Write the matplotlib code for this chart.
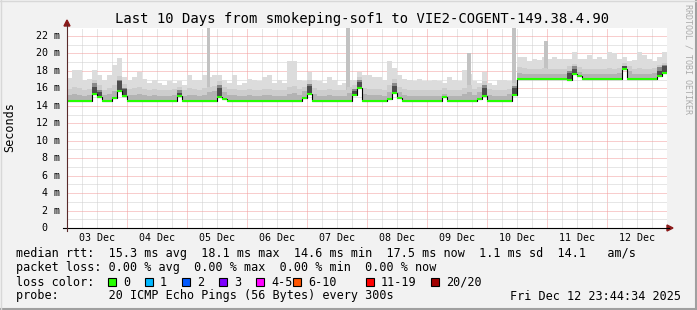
import numpy as np
import matplotlib
matplotlib.use('Agg')
import matplotlib.pyplot as plt
from matplotlib.patches import Rectangle, Polygon
from matplotlib.transforms import blended_transform_factory

W, H = 697, 310

title = 'Last 10 Days from smokeping-sof1 to VIE2-COGENT-149.38.4.90'
day_labels = ['03 Dec', '04 Dec', '05 Dec', '06 Dec', '07 Dec',
              '08 Dec', '09 Dec', '10 Dec', '11 Dec', '12 Dec']
y_ticks = [0, 2, 4, 6, 8, 10, 12, 14, 16, 18, 20, 22]

# 120 columns of 2 hours each, values in ms
med = [14.6, 14.6, 14.6, 14.6, 14.6, 15.4, 15.0, 14.6, 14.6, 14.9,
       15.7, 15.1, 14.6, 14.6, 14.6, 14.6, 14.6, 14.6, 14.6, 14.6,
       14.6, 14.6, 15.1, 14.6, 14.6, 14.6, 14.6, 14.6, 14.6, 14.6,
       15.0, 14.8, 14.6, 14.6, 14.6, 14.6, 14.6, 14.6, 14.6, 14.6,
       14.6, 14.6, 14.6, 14.6, 14.6, 14.6, 14.6, 14.9, 15.4, 14.6,
       14.6, 14.6, 14.6, 14.6, 14.6, 14.6, 14.6, 15.2, 16.0, 14.6,
       14.6, 14.6, 14.6, 14.6, 14.8, 15.5, 14.9, 14.6, 14.6, 14.6,
       14.6, 14.6, 14.6, 14.6, 14.6, 15.0, 14.6, 14.6, 14.6, 14.6,
       14.6, 14.6, 14.8, 15.1, 14.6, 14.6, 14.6, 14.6, 14.6, 15.2,
       17.1, 17.1, 17.1, 17.1, 17.1, 17.1, 17.1, 17.1, 17.1, 17.1,
       17.0, 17.6, 17.4, 17.1, 17.1, 17.1, 17.1, 17.1, 17.1, 17.1,
       17.1, 18.2, 17.1, 17.1, 17.1, 17.1, 17.1, 17.1, 17.4, 17.7]
hi = [17.2, 18.1, 18.1, 16.9, 17.1, 18.1, 17.5, 16.9, 17.5, 18.7,
      19.5, 17.3, 16.9, 17.3, 17.9, 17.1, 16.6, 16.9, 16.6, 16.4,
      16.8, 16.6, 16.8, 16.4, 17.5, 16.9, 16.9, 17.5, 17.3, 17.5,
      17.5, 16.9, 16.6, 17.5, 16.4, 16.6, 17.1, 16.9, 16.8, 17.3,
      17.5, 16.6, 16.9, 16.6, 19.1, 19.1, 16.9, 16.8, 17.9, 16.9,
      16.8, 16.6, 17.3, 16.9, 16.4, 16.6, 17.0, 16.9, 17.9, 17.5,
      17.5, 17.3, 17.3, 16.9, 19.1, 18.3, 17.5, 17.1, 16.9, 16.8,
      17.1, 16.8, 16.8, 16.9, 16.8, 16.6, 17.3, 16.9, 16.8, 18.1,
      17.6, 16.8, 16.6, 17.9, 16.6, 16.4, 16.9, 16.9, 16.8, 16.9,
      19.6, 19.6, 19.1, 19.4, 19.3, 19.6, 19.4, 19.6, 19.4, 19.4,
      19.4, 20.2, 19.4, 19.4, 19.8, 19.4, 19.6, 19.4, 20.2, 20.0,
      19.4, 19.6, 19.1, 19.3, 20.2, 19.8, 19.4, 19.1, 19.6, 20.2]
mid = [15.9, 16.1, 16.0, 15.8, 15.9, 17.0, 16.4, 15.8, 16.0, 16.4,
       17.4, 16.5, 15.9, 16.0, 16.1, 15.9, 15.8, 15.9, 15.8, 15.8,
       15.8, 15.9, 16.2, 15.8, 16.0, 15.9, 15.8, 16.0, 16.2, 16.3,
       16.8, 16.2, 15.9, 15.9, 15.8, 15.8, 15.9, 15.8, 15.8, 15.9,
       15.9, 15.8, 15.8, 15.8, 16.2, 16.3, 15.9, 16.2, 16.9, 16.0,
       15.8, 15.8, 15.9, 15.8, 15.8, 15.8, 16.2, 16.4, 17.3, 16.0,
       15.9, 15.9, 15.9, 15.8, 16.4, 17.1, 16.2, 15.9, 15.8, 15.8,
       15.8, 15.8, 15.8, 15.8, 15.8, 16.0, 15.8, 15.8, 15.8, 16.0,
       16.4, 15.9, 16.2, 16.8, 15.9, 15.8, 15.8, 15.8, 15.9, 16.6,
       18.4, 18.3, 18.2, 18.2, 18.2, 18.3, 18.2, 18.2, 18.2, 18.2,
       18.6, 18.8, 18.4, 18.2, 18.2, 18.2, 18.2, 18.2, 18.3, 18.2,
       18.3, 18.9, 18.6, 18.2, 18.3, 18.2, 18.2, 18.3, 18.7, 18.9]
dk = [15.2, 15.3, 15.2, 15.1, 15.2, 16.6, 15.8, 15.2, 15.3, 15.7,
      17.0, 16.0, 15.2, 15.2, 15.3, 15.2, 15.1, 15.2, 15.1, 15.1,
      15.1, 15.2, 15.8, 15.1, 15.2, 15.2, 15.1, 15.2, 15.6, 15.7,
      16.4, 15.6, 15.2, 15.2, 15.1, 15.1, 15.2, 15.1, 15.1, 15.2,
      15.2, 15.1, 15.1, 15.1, 15.4, 15.5, 15.2, 15.7, 16.5, 15.4,
      15.1, 15.1, 15.2, 15.1, 15.1, 15.1, 15.5, 15.9, 16.9, 15.3,
      15.2, 15.2, 15.2, 15.1, 15.6, 16.6, 15.6, 15.2, 15.1, 15.1,
      15.1, 15.1, 15.1, 15.1, 15.1, 15.4, 15.1, 15.1, 15.1, 15.3,
      15.6, 15.2, 15.6, 16.4, 15.2, 15.1, 15.1, 15.1, 15.3, 16.3,
      17.7, 17.6, 17.6, 17.6, 17.6, 17.6, 17.6, 17.6, 17.6, 17.6,
      18.0, 18.6, 17.9, 17.6, 17.6, 17.6, 17.6, 17.6, 17.6, 17.6,
      17.7, 18.6, 18.0, 17.6, 17.6, 17.6, 17.6, 17.7, 18.4, 18.7]
# darkest smoke on the jitter events (column index, top in ms)
core_cols = [5, 6, 10, 11, 22, 30, 48, 57, 58, 65, 83, 89, 100, 101, 111, 118, 119]
core_top = [16.2, 15.6, 16.8, 15.9, 15.5, 16.0, 16.3, 15.7, 16.7, 16.3,
            16.0, 16.0, 17.7, 18.2, 18.6, 18.0, 18.5]
# narrow spikes (start day, end day, top ms)
spike_start = [2.33, 4.65, 6.67, 7.42, 7.95]
spike_end = [2.39, 4.72, 6.73, 7.48, 8.02]
spike_top = [22.9, 22.9, 20.0, 22.9, 21.4]

legend_rtt = 'median rtt:  15.3 ms avg  18.1 ms max  14.6 ms min  17.5 ms now  1.1 ms sd  14.1   am/s'
legend_loss = 'packet loss: 0.00 % avg  0.00 % max  0.00 % min  0.00 % now'
loss_labels = ['0', '1', '2', '3', '4-5', '6-10', '11-19', '20/20']
loss_colors = ['#26ff00', '#00b8ff', '#0059ff', '#7e00ff', '#ff00ff',
               '#ff5500', '#ff0000', '#a10000']
probe_text = 'probe:       20 ICMP Echo Pings (56 Bytes) every 300s'
stamp = 'Fri Dec 12 23:44:34 2025'

plt.rcParams['font.family'] = ['DejaVu Sans Mono']


def fx(x):
    return x / W


def fy(y):
    return 1 - y / H


fig = plt.figure(figsize=(W / 100, H / 100), dpi=100, facecolor='#f2f2f2')
ax = fig.add_axes([fx(67), fy(228), 600 / W, 200 / H])
ax.set_facecolor('white')
ax.set_xlim(0, 10)
ax.set_ylim(0, 200 / 8.73)
for s in ax.spines.values():
    s.set_visible(False)
ax.set_xticks([])
ax.set_yticks([])

# grid
dot = (0, (1, 1))
for i in range(40):
    if i % 4:
        ax.axvline(i / 4, color='#cfcfcf', lw=0.72, ls=dot, zorder=1)
for d in range(1, 10):
    ax.axvline(d, color='#f29c9c', lw=0.72, ls=dot, zorder=1)
for v in range(1, 23):
    ax.axhline(v, color='#f29c9c' if v % 2 == 0 else '#cfcfcf', lw=0.72, ls=dot, zorder=1)

# smoke
edges = np.arange(len(med) + 1) / 12
med_a = np.array(med)
ev = np.array(core_cols)
ax.stairs(hi, edges, baseline=med, fill=True, color='#dcdcdc', lw=0, zorder=2)
for a, b, t in zip(spike_start, spike_end, spike_top):
    base = med[int(a * 12)]
    ax.bar(a, t - base, width=b - a, bottom=base, align='edge', color='#c2c2c2', lw=0, zorder=2)
ax.stairs(mid, edges, baseline=med, fill=True, color='#cdcdcd', lw=0, zorder=3)
ax.stairs(dk, edges, baseline=med, fill=True, color='#b3b3b3', lw=0, zorder=4)
ax.bar(edges[ev], np.array(dk)[ev] - med_a[ev], width=1 / 12,
       bottom=med_a[ev], align='edge', color='#8a8a8a', lw=0, zorder=5)
ax.bar(edges[ev], np.array(core_top) - med_a[ev], width=1 / 12,
       bottom=med_a[ev], align='edge', color='#4d4d4d', lw=0, zorder=5)

# median line
ax.stairs(med, edges, baseline=None, color='black', lw=0.8, zorder=6)
ax.hlines(med, edges[:-1], edges[1:], color='#26ff00', lw=1.5, zorder=7)

# axes lines and arrows
fig.add_artist(plt.Line2D([fx(63), fx(669)], [fy(228), fy(228)], color='black', lw=0.8))
fig.add_artist(plt.Line2D([fx(67), fx(67)], [fy(231), fy(24)], color='#5a2a2a', lw=0.8))
fig.add_artist(Polygon([[fx(667), fy(225)], [fx(673), fy(228)], [fx(667), fy(231)]],
                       closed=True, color='#8b1a1a', transform=fig.transFigure))
fig.add_artist(Polygon([[fx(64), fy(26)], [fx(67), fy(20)], [fx(70), fy(26)]],
                       closed=True, color='#8b1a1a', transform=fig.transFigure))

# tick labels
ytr = blended_transform_factory(fig.transFigure, ax.transData)
for v in y_ticks:
    lab = '%2d m' % v if v else ' 0  '
    ax.text(fx(36), v, lab, transform=ytr, ha='left', va='center', fontsize=7.2)
xtr = blended_transform_factory(ax.transData, fig.transFigure)
for i, lab in enumerate(day_labels):
    ax.text(i + 0.5, fy(238), lab, transform=xtr, ha='center', va='center', fontsize=7.2)

fig.text(fx(362), fy(19), title, ha='center', va='center', fontsize=10)
fig.text(fx(10), fy(127), 'Seconds', rotation=90, ha='center', va='center', fontsize=8.5)
fig.text(fx(688), fy(59), 'RRDTOOL / TOBI OETIKER', rotation=270, ha='center', va='center',
         fontsize=6, color='#ababab')

# legend
fig.text(fx(16), fy(254), legend_rtt, ha='left', va='center', fontsize=8.5)
fig.text(fx(16), fy(268), legend_loss, ha='left', va='center', fontsize=8.5)
fig.text(fx(16), fy(282), 'loss color:', ha='left', va='center', fontsize=8.5)
box_x = [108, 145, 182, 219, 256, 293, 366, 431]
for bx, lab, c in zip(box_x, loss_labels, loss_colors):
    fig.add_artist(Rectangle((fx(bx), fy(286)), 8 / W, 8 / H, transform=fig.transFigure,
                             facecolor=c, edgecolor='black', lw=0.8))
    fig.text(fx(bx + 15), fy(282), lab, ha='left', va='center', fontsize=8.5)
fig.text(fx(16), fy(296), probe_text, ha='left', va='center', fontsize=8.5)
fig.text(fx(681), fy(296), stamp, ha='right', va='center', fontsize=8.5)

# frame
fig.add_artist(plt.Line2D([0, 1], [fy(309), fy(309)], color='#a0a0a0', lw=1.5))
fig.add_artist(plt.Line2D([fx(696), fx(696)], [0, 1], color='#a0a0a0', lw=1.5))
fig.add_artist(plt.Line2D([0, 1], [fy(0.5), fy(0.5)], color='#d8d8d8', lw=1))
fig.add_artist(plt.Line2D([fx(0.5), fx(0.5)], [0, 1], color='#d8d8d8', lw=1))

fig.savefig('out.png', dpi=100, facecolor=fig.get_facecolor())
